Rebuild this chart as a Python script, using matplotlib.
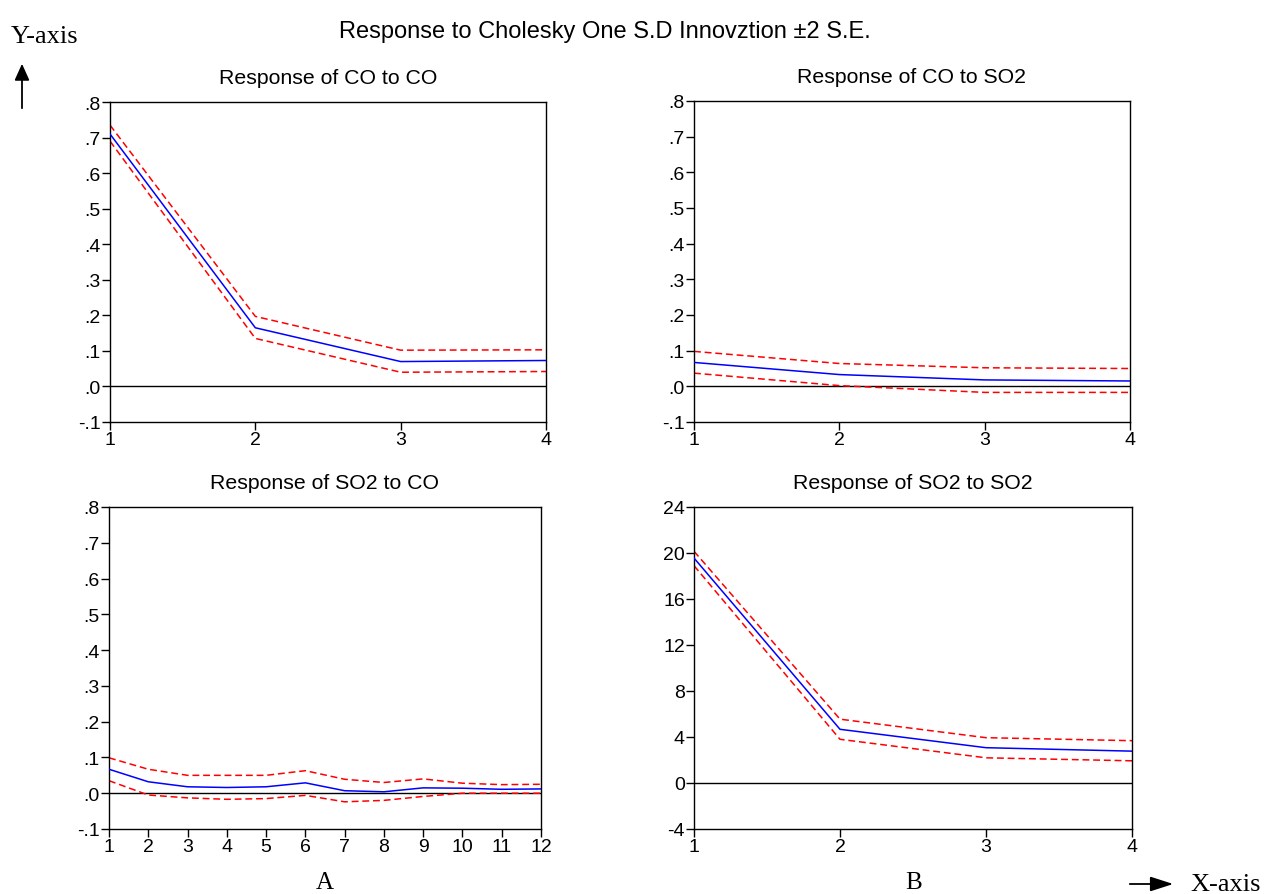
import matplotlib.pyplot as plt
from matplotlib.patches import FancyArrowPatch
from matplotlib.ticker import FuncFormatter

# Impulse responses: mean, upper band, lower band
periods_4 = [1, 2, 3, 4]
periods_12 = list(range(1, 13))

co_co = [0.710, 0.165, 0.070, 0.073]
co_co_hi = [0.735, 0.197, 0.102, 0.103]
co_co_lo = [0.690, 0.135, 0.040, 0.042]

co_so2 = [0.067, 0.033, 0.018, 0.015]
co_so2_hi = [0.098, 0.064, 0.052, 0.050]
co_so2_lo = [0.037, 0.002, -0.017, -0.017]

so2_co = [0.067, 0.032, 0.018, 0.016, 0.018, 0.029, 0.007, 0.004, 0.015, 0.014, 0.011, 0.012]
so2_co_hi = [0.099, 0.067, 0.050, 0.050, 0.050, 0.063, 0.039, 0.030, 0.040, 0.028, 0.024, 0.025]
so2_co_lo = [0.035, -0.005, -0.013, -0.017, -0.015, -0.006, -0.024, -0.020, -0.009, 0.000, 0.000, 0.000]

so2_so2 = [19.56, 4.67, 3.07, 2.77]
so2_so2_hi = [20.15, 5.55, 3.94, 3.68]
so2_so2_lo = [18.90, 3.80, 2.19, 1.93]


def dot_fmt(v, pos):
    s = "%.1f" % v
    return s.replace("0.", ".")


fig = plt.figure(figsize=(12.78, 8.95), dpi=100)
W, H = 1278, 895


def make_ax(l, t, r, b):
    return fig.add_axes([l / W, 1 - b / H, (r - l) / W, (b - t) / H])


panels = [
    (make_ax(110, 103, 546, 423), "Response of CO to CO", periods_4, co_co, co_co_hi, co_co_lo),
    (make_ax(694, 102, 1130, 423), "Response of CO to SO2", periods_4, co_so2, co_so2_hi, co_so2_lo),
    (make_ax(109, 508, 541, 830), "Response of SO2 to CO", periods_12, so2_co, so2_co_hi, so2_co_lo),
    (make_ax(694, 508, 1132, 830), "Response of SO2 to SO2", periods_4, so2_so2, so2_so2_hi, so2_so2_lo),
]

for i, (ax, title, x, m, hi, lo) in enumerate(panels):
    ax.axhline(0, color="black", lw=1.0, zorder=1)
    ax.plot(x, m, color="blue", lw=1.1, zorder=3)
    ax.plot(x, hi, color="red", lw=1.1, ls=(0, (4.5, 2.5)), zorder=2)
    ax.plot(x, lo, color="red", lw=1.1, ls=(0, (4.5, 2.5)), zorder=2)
    ax.set_xlim(x[0], x[-1])
    ax.set_xticks(x)
    if i == 3:
        ax.set_ylim(-4, 24)
        ax.set_yticks(range(-4, 25, 4))
        ax.set_yticklabels([str(v) for v in range(-4, 25, 4)])
    else:
        ax.set_ylim(-0.1, 0.8)
        ax.set_yticks([-0.1, 0.0, 0.1, 0.2, 0.3, 0.4, 0.5, 0.6, 0.7, 0.8])
        ax.yaxis.set_major_formatter(FuncFormatter(dot_fmt))
    ax.tick_params(direction="out", length=5.5, width=1, labelsize=14, pad=1)
    for lab in ax.get_xticklabels() + ax.get_yticklabels():
        lab.set_fontfamily("Liberation Sans")
    for sp in ax.spines.values():
        sp.set_linewidth(1.0)
    ax.set_title(title, fontsize=15.3, family="Liberation Sans", pad=14)

fig.text(605 / W, 1 - 32 / H, "Response to Cholesky One S.D Innovztion \u00b12 S.E.",
         ha="center", va="center", fontsize=17, family="Liberation Sans")

fig.text(11 / W, 1 - 37 / H, "Y-axis", ha="left", va="center", fontsize=19, family="Liberation Serif")
fig.text(325 / W, 1 - 883 / H, "A", ha="center", va="center", fontsize=18, family="Liberation Serif")
fig.text(914 / W, 1 - 883 / H, "B", ha="center", va="center", fontsize=18, family="Liberation Serif")
fig.text(1190 / W, 1 - 885 / H, "X-axis", ha="left", va="center", fontsize=19, family="Liberation Serif")

fig.patches.append(FancyArrowPatch(
    (22 / W, 1 - 112 / H), (22 / W, 1 - 62 / H), transform=fig.transFigure,
    arrowstyle="-|>,head_length=10,head_width=4.5", color="black", lw=1.3, mutation_scale=1))
fig.patches.append(FancyArrowPatch(
    (1127 / W, 1 - 885 / H), (1176 / W, 1 - 885 / H), transform=fig.transFigure,
    arrowstyle="-|>,head_length=14,head_width=4.5", color="black", lw=1.3, mutation_scale=1))

fig.savefig("out.png", dpi=100)
